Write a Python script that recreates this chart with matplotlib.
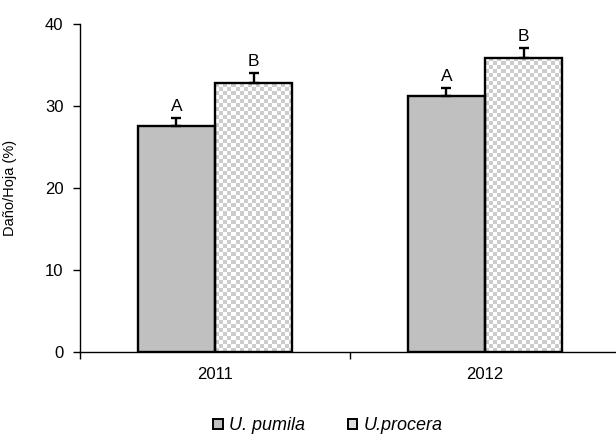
import numpy as np
import matplotlib
matplotlib.use("Agg")
import matplotlib.pyplot as plt
from matplotlib.patches import Patch

plt.rcParams['font.family'] = ['Liberation Sans', 'DejaVu Sans']

years = ["2011", "2012"]
species = ["U. pumila", "U.procera"]
pumila = [27.5, 31.2]
procera = [32.8, 35.9]
pumila_err = [1.0, 1.0]
procera_err = [1.2, 1.2]
pumila_letters = ["A", "A"]
procera_letters = ["B", "B"]

W, H, DPI = 616, 437, 100
fig = plt.figure(figsize=(W / DPI, H / DPI), dpi=DPI)
ax = fig.add_axes([80 / W, 1 - 352 / H, (W - 80) / W, (352 - 24) / H])

x = np.arange(len(years))
bw = 0.286
ec = "black"
lw = 1.7

bars_p = ax.bar(x - bw / 2, pumila, bw, color="#c0c0c0", edgecolor=ec, linewidth=lw, zorder=3)
bars_q = ax.bar(x + bw / 2, procera, bw, color="none", edgecolor=ec, linewidth=lw, zorder=3)

XLIM = (-0.5, 1.5 - 4 / 270)
ax.set_xlim(*XLIM)
ax.set_ylim(0, 40)

# checkerboard fill behind the outlined bars
fig.canvas.draw()
cell = 4.0
for b in bars_q:
    x0, y0 = b.get_x(), b.get_y()
    x1, y1 = x0 + b.get_width(), y0 + b.get_height()
    p0 = ax.transData.transform((x0, y0))
    p1 = ax.transData.transform((x1, y1))
    nx = max(1, int(round((p1[0] - p0[0]) / cell)))
    ny = max(1, int(round((p1[1] - p0[1]) / cell)))
    ii, jj = np.indices((ny, nx))
    board = np.where((ii + jj) % 2 == 0, 0.80, 1.0)
    ax.imshow(board, cmap="gray", vmin=0, vmax=1, extent=(x0, x1, y0, y1),
              interpolation="nearest", aspect="auto", origin="lower", zorder=2)
ax.set_xlim(*XLIM)
ax.set_ylim(0, 40)

# upward-only error bars
ax.errorbar(x - bw / 2, pumila, yerr=[np.zeros(2), pumila_err], fmt="none",
            ecolor=ec, elinewidth=lw, capsize=3.3, capthick=lw, zorder=4)
ax.errorbar(x + bw / 2, procera, yerr=[np.zeros(2), procera_err], fmt="none",
            ecolor=ec, elinewidth=lw, capsize=3.3, capthick=lw, zorder=4)

for xi, v, e, t in zip(x - bw / 2, pumila, pumila_err, pumila_letters):
    ax.annotate(t, (xi, v + e), xytext=(0, 3), textcoords="offset points",
                ha="center", va="bottom", fontsize=12.5)
for xi, v, e, t in zip(x + bw / 2, procera, procera_err, procera_letters):
    ax.annotate(t, (xi, v + e), xytext=(0, 3), textcoords="offset points",
                ha="center", va="bottom", fontsize=12.5)

for s in ["top", "right"]:
    ax.spines[s].set_visible(False)
ax.spines["left"].set_linewidth(1.0)
ax.spines["bottom"].set_linewidth(1.0)

ax.set_yticks([0, 10, 20, 30, 40])
ax.tick_params(axis="y", direction="out", length=5, width=1, labelsize=12, pad=7)
ax.set_xticks([-0.5, 0.5])
ax.set_xticklabels(["", ""])
ax.tick_params(axis="x", direction="out", length=5, width=1)
ax.set_xticks(x, minor=True)
ax.set_xticklabels(years, minor=True, fontsize=12)
ax.tick_params(axis="x", which="minor", length=0, pad=11)

ax.set_ylabel("Daño/Hoja (%)", fontsize=10.5)
ax.yaxis.set_label_coords(-63 / (W - 80), 0.5)

handles = [Patch(facecolor="#c0c0c0", edgecolor=ec, linewidth=1.4),
           Patch(facecolor="#dedede", edgecolor=ec, linewidth=1.4)]
leg = fig.legend(handles, species, loc="center", bbox_to_anchor=(328 / W, 1 - 426 / H),
                 ncol=2, frameon=False, handlelength=0.5, handleheight=0.5,
                 handletextpad=0.35, columnspacing=2.4,
                 prop={"style": "italic", "size": 13, "family": ["Liberation Sans"]})

fig.savefig("out.png", dpi=DPI)
